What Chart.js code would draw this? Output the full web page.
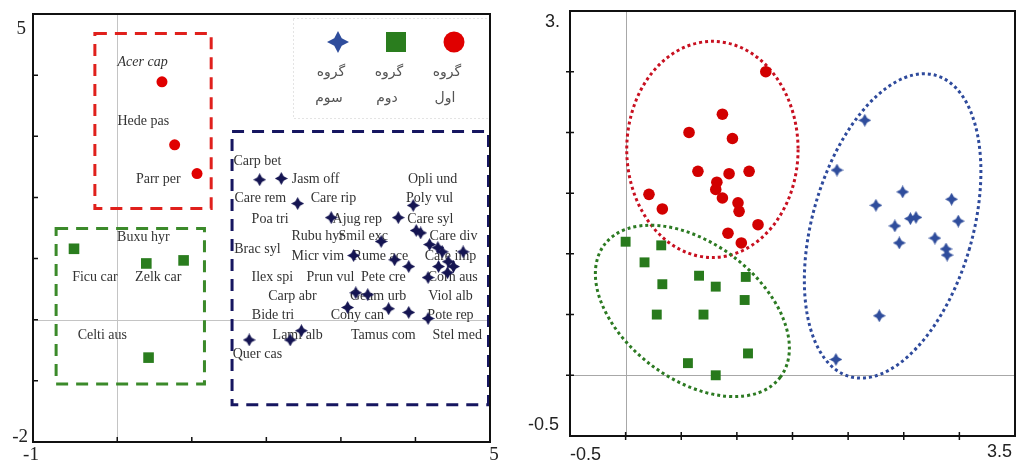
<!DOCTYPE html>
<html>
<head>
<meta charset="utf-8">
<script src="https://cdn.jsdelivr.net/npm/chart.js@4.4.1/dist/chart.umd.min.js"></script>
<style>
  html, body { margin: 0; padding: 0; background: #fff; overflow: hidden; }
  #wrap { position: relative; width: 1016px; height: 464px; }
  canvas { position: absolute; top: 0; display: block; }
  #leftChart { left: 0; }
  #rightChart { left: 505px; }
</style>
</head>
<body>
<div id="wrap">
  <canvas id="leftChart" width="505" height="464"></canvas>
  <canvas id="rightChart" width="511" height="464"></canvas>
</div>
<script>
// --- Left panel (species ordination) ---
const LEFT_X_MIN = -1.13, LEFT_X_MAX = 5;
const LEFT_Y_MIN = -2, LEFT_Y_MAX = 5;
const LEFT_X_TICKS = [0, 1, 2, 3, 4];
const LEFT_Y_TICKS = [-1, 0, 1, 2, 3, 4];

const RED_NAMES = ["Acer cap", "Hede pas", "Parr per"];
const RED_X = [0.60, 0.77, 1.07];
const RED_Y = [3.89, 2.86, 2.39];
const RED_LABEL_X = [0.34, 0.35, 0.55];
const RED_LABEL_Y = [4.21, 3.24, 2.29];

const GREEN_NAMES = ["Buxu hyr", "Ficu car", "Zelk car", "Celti aus"];
const GREEN_X = [-0.58, 0.39, 0.89, 0.42];
const GREEN_Y = [1.16, 0.92, 0.97, -0.62];
const GREEN_LABEL_X = [0.35, -0.30, 0.55, -0.20];
const GREEN_LABEL_Y = [1.34, 0.70, 0.70, -0.26];

const BLUE_X = [1.91, 2.20, 2.42, 2.87, 3.17, 3.54, 3.77, 3.97, 4.01, 4.07,
  3.72, 3.91, 4.19, 4.30, 4.36, 4.64, 4.31, 4.44, 4.51, 4.43,
  4.17, 3.20, 3.36, 3.09, 3.64, 3.91, 4.17, 2.47, 2.32, 1.77];
const BLUE_Y = [2.29, 2.31, 1.90, 1.67, 1.05, 1.28, 1.67, 1.87, 1.46, 1.42,
  0.98, 0.87, 1.23, 1.18, 1.11, 1.11, 0.87, 0.95, 0.87, 0.77,
  0.69, 0.44, 0.41, 0.20, 0.18, 0.12, 0.02, -0.18, -0.33, -0.33];

const BLUE_NAMES = ["Carp bet", "Jasm off", "Opli und", "Care rem", "Care rip", "Poly vul",
  "Poa tri", "Ajug rep", "Care syl", "Rubu hyr", "Smil exc", "Care div",
  "Brac syl", "Micr vim", "Rume ace", "Care imp", "Ilex spi", "Prun vul",
  "Pete cre", "Corn aus", "Carp abr", "Geum urb", "Viol alb", "Bide tri",
  "Cohy can", "Pote rep", "Lami alb", "Tamus com", "Stel med", "Quer cas"];
const BLUE_LABEL_X = [1.88, 2.66, 4.23, 1.92, 2.90, 4.19, 2.05, 3.22, 4.20, 2.69,
  3.30, 4.51, 1.88, 2.69, 3.53, 4.47, 2.08, 2.86, 3.57, 4.50,
  2.35, 3.50, 4.47, 2.09, 3.22, 4.47, 2.42, 3.57, 4.56, 1.88];
const BLUE_LABEL_Y = [2.59, 2.29, 2.29, 1.98, 1.98, 1.98, 1.65, 1.65, 1.65, 1.36,
  1.36, 1.36, 1.15, 1.03, 1.03, 1.03, 0.70, 0.70, 0.70, 0.70,
  0.39, 0.39, 0.39, 0.07, 0.07, 0.07, -0.25, -0.25, -0.25, -0.57];

// group boxes: [xMin, xMax, yMin, yMax]
const RED_BOX = [-0.30, 1.26, 1.82, 4.68];
const GREEN_BOX = [-0.82, 1.17, -1.05, 1.49];
const BLUE_BOX = [1.54, 4.98, -1.39, 3.08];

const LEGEND_TOP = ["گروه", "گروه", "گروه"];
const LEGEND_BOTTOM = ["سوم", "دوم", "اول"];

// --- Right panel (sample ordination) ---
const RIGHT_X_MIN = -0.5, RIGHT_X_MAX = 3.5;
const RIGHT_Y_MIN = -0.5, RIGHT_Y_MAX = 3;
const RIGHT_X_TICKS = [0, 0.5, 1, 1.5, 2, 2.5, 3];
const RIGHT_Y_TICKS = [0, 0.5, 1, 1.5, 2, 2.5];

const G1_X = [1.26, 0.87, 0.57, 0.96, 0.65, 0.93, 1.11, 0.82, 0.81, 0.87, 0.21, 0.33, 1.01, 1.02, 1.19, 0.92, 1.04];
const G1_Y = [2.50, 2.15, 2.00, 1.95, 1.68, 1.66, 1.68, 1.59, 1.53, 1.46, 1.49, 1.37, 1.42, 1.35, 1.24, 1.17, 1.09];

const G2_X = [0.00, 0.32, 0.17, 0.66, 1.08, 0.33, 0.81, 1.07, 0.28, 0.70, 1.10, 0.56, 0.81];
const G2_Y = [1.10, 1.07, 0.93, 0.82, 0.81, 0.75, 0.73, 0.62, 0.50, 0.50, 0.18, 0.10, 0.00];

const G3_X = [2.15, 1.90, 2.49, 2.25, 2.93, 2.56, 2.61, 2.99, 2.42, 2.46, 2.78, 2.88, 2.89, 2.28, 1.89];
const G3_Y = [2.10, 1.69, 1.51, 1.40, 1.45, 1.29, 1.30, 1.27, 1.23, 1.09, 1.13, 1.04, 0.99, 0.49, 0.13];

// group ellipses: [centerX, centerY, radiusX, radiusY, rotationDeg]
const G1_ELLIPSE = [0.78, 1.86, 0.77, 0.89, 0];
const G2_ELLIPSE = [0.60, 0.53, 0.99, 0.56, 37];
const G3_ELLIPSE = [2.40, 1.23, 0.72, 1.29, 16];

// --- Helpers ---
function toPoints(xs, ys) {
  return xs.map((x, i) => ({ x: x, y: ys[i] }));
}

function makeStar(size, color, body) {
  const c = document.createElement("canvas");
  c.width = c.height = size;
  const g = c.getContext("2d");
  const m = size / 2, k = size * body;
  g.fillStyle = color;
  g.beginPath();
  g.moveTo(m, 0);
  g.lineTo(m + k, m - k);
  g.lineTo(size, m);
  g.lineTo(m + k, m + k);
  g.lineTo(m, size);
  g.lineTo(m - k, m + k);
  g.lineTo(0, m);
  g.lineTo(m - k, m - k);
  g.closePath();
  g.fill();
  return c;
}

function baseOptions(xMin, xMax, yMin, yMax, padding) {
  return {
    responsive: false,
    animation: false,
    events: [],
    devicePixelRatio: 1,
    layout: { padding: padding, autoPadding: false },
    plugins: { legend: { display: false }, tooltip: { enabled: false } },
    scales: {
      x: { type: "linear", min: xMin, max: xMax, display: false },
      y: { type: "linear", min: yMin, max: yMax, display: false },
    },
  };
}

function zeroLines(chart, color) {
  const { ctx, chartArea: a, scales: { x, y } } = chart;
  ctx.save();
  ctx.strokeStyle = color;
  ctx.lineWidth = 1;
  ctx.beginPath();
  const px = Math.round(x.getPixelForValue(0)) + 0.5;
  const py = Math.round(y.getPixelForValue(0)) + 0.5;
  ctx.moveTo(px, a.top);
  ctx.lineTo(px, a.bottom);
  ctx.moveTo(a.left, py);
  ctx.lineTo(a.right, py);
  ctx.stroke();
  ctx.restore();
}

function frame(chart, width) {
  const { ctx, chartArea: a } = chart;
  ctx.save();
  ctx.strokeStyle = "#111";
  ctx.lineWidth = width;
  ctx.strokeRect(a.left, a.top, a.right - a.left, a.bottom - a.top);
  ctx.restore();
}

function text(ctx, str, px, py, font, color, align, baseline) {
  ctx.font = font;
  ctx.fillStyle = color;
  ctx.textAlign = align || "center";
  ctx.textBaseline = baseline || "middle";
  ctx.fillText(str, px, py);
}

// --- Left chart decorations ---
const leftDecor = {
  id: "leftDecor",
  beforeDatasetsDraw(chart) {
    const { ctx, chartArea: a, scales: { x, y } } = chart;
    zeroLines(chart, "#c4c4c4");

    // dashed group boxes
    const boxes = [[RED_BOX, "#e0201c"], [GREEN_BOX, "#3b8a2a"], [BLUE_BOX, "#161660"]];
    boxes.forEach(([b, color]) => {
      const l = x.getPixelForValue(b[0]), r = x.getPixelForValue(b[1]);
      const t = y.getPixelForValue(b[3]), btm = y.getPixelForValue(b[2]);
      ctx.save();
      ctx.strokeStyle = color;
      ctx.lineWidth = 3;
      ctx.setLineDash([12, 8]);
      ctx.strokeRect(l, t, r - l, btm - t);
      ctx.restore();
    });

    // species labels
    const serif = "14px 'Liberation Serif', 'Times New Roman', serif";
    RED_NAMES.forEach((n, i) => {
      const f = i === 0 ? "italic " + serif : serif;
      text(ctx, n, x.getPixelForValue(RED_LABEL_X[i]), y.getPixelForValue(RED_LABEL_Y[i]), f, "#333");
    });
    GREEN_NAMES.forEach((n, i) => {
      text(ctx, n, x.getPixelForValue(GREEN_LABEL_X[i]), y.getPixelForValue(GREEN_LABEL_Y[i]), serif, "#333");
    });
    BLUE_NAMES.forEach((n, i) => {
      text(ctx, n, x.getPixelForValue(BLUE_LABEL_X[i]), y.getPixelForValue(BLUE_LABEL_Y[i]), serif, "#333");
    });

    // legend box
    const lx = a.right - 197, ly = a.top + 4, lw = 197, lh = 100;
    ctx.save();
    ctx.fillStyle = "#fff";
    ctx.fillRect(lx, ly, lw, lh);
    ctx.strokeStyle = "#c8c8c8";
    ctx.lineWidth = 1;
    ctx.setLineDash([1, 3]);
    ctx.strokeRect(lx + 0.5, ly + 0.5, lw, lh);
    ctx.restore();

    const cx = [lx + 45, lx + 103, lx + 161];
    const iy = ly + 24;
    ctx.drawImage(legendStar, cx[0] - legendStar.width / 2, iy - legendStar.height / 2);
    ctx.fillStyle = "#2a7d1e";
    ctx.fillRect(cx[1] - 10, iy - 10, 20, 20);
    ctx.fillStyle = "#e00000";
    ctx.beginPath();
    ctx.arc(cx[2], iy, 10.5, 0, Math.PI * 2);
    ctx.fill();
    const fa = "14px 'DejaVu Sans', sans-serif";
    LEGEND_TOP.forEach((s, i) => text(ctx, s, cx[i] - 7, ly + 54, fa, "#555"));
    LEGEND_BOTTOM.forEach((s, i) => text(ctx, s, cx[i] - 9, ly + 80, fa, "#555"));
  },
  afterDatasetsDraw(chart) {
    const { ctx, chartArea: a, scales: { x, y } } = chart;
    frame(chart, 2);
    ctx.save();
    ctx.strokeStyle = "#111";
    ctx.lineWidth = 1.5;
    ctx.beginPath();
    LEFT_X_TICKS.forEach((v) => {
      const px = x.getPixelForValue(v);
      ctx.moveTo(px, a.bottom);
      ctx.lineTo(px, a.bottom - 5);
    });
    LEFT_Y_TICKS.forEach((v) => {
      const py = y.getPixelForValue(v);
      ctx.moveTo(a.left, py);
      ctx.lineTo(a.left + 5, py);
    });
    ctx.stroke();
    ctx.restore();

    const f = "19px 'Liberation Serif', 'Times New Roman', serif";
    text(ctx, String(LEFT_Y_MAX), a.left - 7, a.top + 15, f, "#222", "right");
    text(ctx, String(LEFT_Y_MIN), a.left - 5, a.bottom - 5, f, "#222", "right");
    text(ctx, "-1", a.left - 2, a.bottom + 13, f, "#222", "center");
    text(ctx, String(LEFT_X_MAX), a.right + 4, a.bottom + 13, f, "#222", "center");
  },
};

// --- Right chart decorations ---
const rightDecor = {
  id: "rightDecor",
  beforeDatasetsDraw(chart) {
    const { ctx, scales: { x, y } } = chart;
    zeroLines(chart, "#a8a8a8");
    const ellipses = [[G1_ELLIPSE, "#c81020"], [G2_ELLIPSE, "#2c7a22"], [G3_ELLIPSE, "#2e4a9c"]];
    ellipses.forEach(([e, color]) => {
      const cx = x.getPixelForValue(e[0]), cy = y.getPixelForValue(e[1]);
      const rx = Math.abs(x.getPixelForValue(e[0] + e[2]) - cx);
      const ry = Math.abs(y.getPixelForValue(e[1] + e[3]) - cy);
      ctx.save();
      ctx.strokeStyle = color;
      ctx.lineWidth = 3;
      ctx.setLineDash([3, 3]);
      ctx.beginPath();
      ctx.ellipse(cx, cy, rx, ry, (e[4] * Math.PI) / 180, 0, Math.PI * 2);
      ctx.stroke();
      ctx.restore();
    });
  },
  afterDatasetsDraw(chart) {
    const { ctx, chartArea: a, scales: { x, y } } = chart;
    frame(chart, 2);
    ctx.save();
    ctx.strokeStyle = "#111";
    ctx.lineWidth = 1.5;
    ctx.beginPath();
    RIGHT_X_TICKS.forEach((v) => {
      const px = x.getPixelForValue(v);
      ctx.moveTo(px, a.bottom - 4);
      ctx.lineTo(px, a.bottom + 4);
    });
    RIGHT_Y_TICKS.forEach((v) => {
      const py = y.getPixelForValue(v);
      ctx.moveTo(a.left - 4, py);
      ctx.lineTo(a.left + 4, py);
    });
    ctx.stroke();
    ctx.restore();

    const f = "18px 'Liberation Sans', Arial, sans-serif";
    text(ctx, "3.", a.left - 10, a.top + 11, f, "#222", "right");
    text(ctx, String(RIGHT_Y_MIN), a.left - 11, a.bottom - 11, f, "#222", "right");
    text(ctx, String(RIGHT_X_MIN), a.left, a.bottom + 19, f, "#222", "left");
    text(ctx, String(RIGHT_X_MAX), a.right - 3, a.bottom + 16, f, "#222", "right");
  },
};

const leftStar = makeStar(13, "#151552", 0.18);
const legendStar = makeStar(22, "#2f4d9c", 0.17);
const rightStar = makeStar(13, "#2f4d9c", 0.18);

new Chart(document.getElementById("leftChart"), {
  type: "scatter",
  data: {
    datasets: [
      { data: toPoints(RED_X, RED_Y), pointStyle: "circle", pointRadius: 5.5, backgroundColor: "#e00000", borderWidth: 0 },
      { data: toPoints(GREEN_X, GREEN_Y), pointStyle: "rect", pointRadius: 7.5, backgroundColor: "#2a7d1e", borderWidth: 0 },
      { data: toPoints(BLUE_X, BLUE_Y), pointStyle: leftStar, pointRadius: 6 },
    ],
  },
  options: baseOptions(LEFT_X_MIN, LEFT_X_MAX, LEFT_Y_MIN, LEFT_Y_MAX, { left: 33, top: 14, right: 15, bottom: 22 }),
  plugins: [leftDecor],
});

new Chart(document.getElementById("rightChart"), {
  type: "scatter",
  data: {
    datasets: [
      { data: toPoints(G1_X, G1_Y), pointStyle: "circle", pointRadius: 5.8, backgroundColor: "#d20000", borderWidth: 0 },
      { data: toPoints(G2_X, G2_Y), pointStyle: "rect", pointRadius: 7, backgroundColor: "#287a1c", borderWidth: 0 },
      { data: toPoints(G3_X, G3_Y), pointStyle: rightStar, pointRadius: 6 },
    ],
  },
  options: baseOptions(RIGHT_X_MIN, RIGHT_X_MAX, RIGHT_Y_MIN, RIGHT_Y_MAX, { left: 65, top: 11, right: 1, bottom: 28 }),
  plugins: [rightDecor],
});
</script>
</body>
</html>
